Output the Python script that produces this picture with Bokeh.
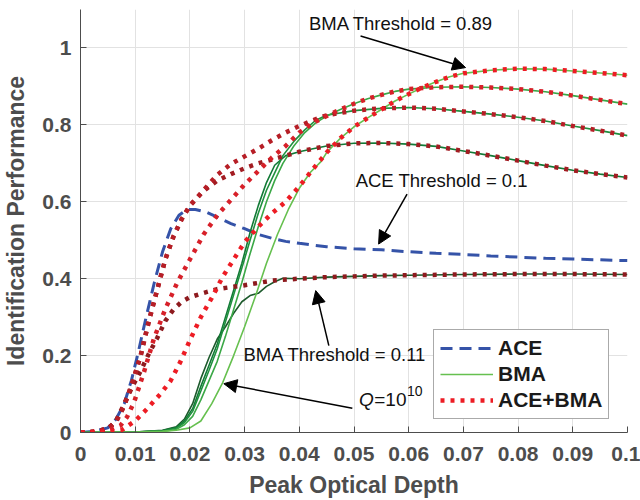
from bokeh.plotting import figure
from bokeh.models import (Range1d, FixedTicker, CustomJSTickFormatter, Legend, LegendItem,
                          Arrow, NormalHead)
from bokeh.core.properties import value
from bokeh.embed import file_html
from bokeh.resources import INLINE

# ---------------- data ----------------
x_ticks = [0, 0.01, 0.02, 0.03, 0.04, 0.05, 0.06, 0.07, 0.08, 0.09, 0.1]
y_ticks = [0, 0.2, 0.4, 0.6, 0.8, 1.0]

ace_x = [0, 0.0025, 0.005, 0.0065, 0.008, 0.0093, 0.0105, 0.012, 0.0135, 0.015, 0.0165, 0.018,
         0.0195, 0.021, 0.023, 0.025, 0.0275, 0.03, 0.0325, 0.035, 0.0375, 0.04, 0.045, 0.05,
         0.055, 0.06, 0.065, 0.07, 0.075, 0.08, 0.085, 0.09, 0.095, 0.1]
ace_y = [0, 0.003, 0.012, 0.035, 0.075, 0.135, 0.205, 0.3, 0.39, 0.47, 0.53, 0.565,
         0.58, 0.58, 0.573, 0.56, 0.543, 0.53, 0.515, 0.505, 0.497, 0.492, 0.483, 0.478,
         0.475, 0.47, 0.466, 0.463, 0.459, 0.456, 0.453, 0.451, 0.449, 0.447]

# ACE+BMA, BMA threshold 0.11
ab011_x = [0, 0.0025, 0.005, 0.0065, 0.008, 0.0095, 0.011, 0.0125, 0.014, 0.0155, 0.017, 0.0185,
           0.02, 0.0225, 0.025, 0.0275, 0.03, 0.035, 0.04, 0.045, 0.05, 0.055, 0.06, 0.07, 0.08,
           0.09, 0.1]
ab011_y = [0, 0.002, 0.01, 0.03, 0.075, 0.12, 0.16, 0.205, 0.245, 0.29, 0.32, 0.34,
           0.352, 0.363, 0.373, 0.378, 0.383, 0.395, 0.4, 0.404, 0.406, 0.408, 0.409, 0.411, 0.412,
           0.412, 0.411]

ab_mid_x = [0, 0.0025, 0.005, 0.0065, 0.008, 0.0095, 0.011, 0.0125, 0.014, 0.0155, 0.017, 0.0185,
            0.02, 0.0225, 0.025, 0.0275, 0.03, 0.0325, 0.035, 0.0375, 0.04, 0.0425, 0.045, 0.05,
            0.055, 0.06, 0.065, 0.07, 0.075, 0.08, 0.085, 0.09, 0.095, 0.1]
# ACE+BMA, threshold ~0.3
ab03_y = [0, 0.002, 0.01, 0.028, 0.07, 0.13, 0.2, 0.29, 0.37, 0.45, 0.51, 0.555,
          0.59, 0.628, 0.655, 0.672, 0.687, 0.7, 0.71, 0.72, 0.73, 0.738, 0.745, 0.752,
          0.753, 0.75, 0.744, 0.732, 0.72, 0.707, 0.694, 0.682, 0.672, 0.663]
# ACE+BMA, threshold ~0.5
ab05_y = [0, 0.002, 0.01, 0.028, 0.07, 0.13, 0.2, 0.29, 0.37, 0.45, 0.51, 0.555,
          0.59, 0.63, 0.67, 0.698, 0.718, 0.738, 0.76, 0.78, 0.797, 0.812, 0.825, 0.837,
          0.843, 0.845, 0.842, 0.835, 0.828, 0.82, 0.81, 0.797, 0.785, 0.772]

# ACE+BMA, threshold ~0.7
ab07_x = [0, 0.0025, 0.005, 0.0073, 0.0085, 0.0098, 0.0116, 0.0134, 0.0155, 0.0177, 0.02, 0.0225,
          0.025, 0.0275, 0.03, 0.0325, 0.035, 0.0375, 0.04, 0.0425, 0.045, 0.0475, 0.05, 0.0525,
          0.055, 0.0575, 0.06, 0.065, 0.07, 0.075, 0.08, 0.085, 0.09, 0.095, 0.1]
ab07_y = [0, 0.001, 0.005, 0.018, 0.04, 0.079, 0.157, 0.243, 0.321, 0.39, 0.45, 0.515,
          0.565, 0.605, 0.645, 0.68, 0.715, 0.745, 0.78, 0.805, 0.823, 0.84, 0.855, 0.868,
          0.878, 0.887, 0.893, 0.898, 0.899, 0.897, 0.893, 0.886, 0.876, 0.865, 0.854]

# ACE+BMA, threshold 0.89
ab089_x = [0, 0.0025, 0.005, 0.0075, 0.01, 0.0122, 0.0146, 0.0165, 0.0183, 0.02, 0.022, 0.024,
           0.026, 0.028, 0.03, 0.0325, 0.035, 0.0375, 0.04, 0.0425, 0.045, 0.0475, 0.05, 0.0525,
           0.055, 0.0575, 0.06, 0.0625, 0.065, 0.0675, 0.07, 0.075, 0.08, 0.085, 0.09, 0.095, 0.1]
ab089_y = [0, 0.001, 0.002, 0.006, 0.03, 0.062, 0.1, 0.135, 0.185, 0.24, 0.3, 0.35,
           0.405, 0.45, 0.495, 0.535, 0.57, 0.6, 0.64, 0.685, 0.728, 0.765, 0.795, 0.818,
           0.84, 0.862, 0.88, 0.897, 0.912, 0.925, 0.934, 0.942, 0.946, 0.945, 0.94, 0.935, 0.929]

# BMA alone: rising parts (they then join the matching ACE+BMA curve)
bma011_x = [0, 0.01, 0.015, 0.0175, 0.019, 0.0205, 0.022, 0.0235, 0.025, 0.0265, 0.028, 0.0295,
            0.031, 0.0325, 0.034, 0.0355, 0.037]
bma011_y = [0, 0.001, 0.006, 0.015, 0.035, 0.075, 0.14, 0.195, 0.243, 0.275, 0.31, 0.34,
            0.356, 0.362, 0.38, 0.392, 0.401]
bma03_x = [0, 0.01, 0.015, 0.0175, 0.019, 0.0205, 0.022, 0.0235, 0.025, 0.0265, 0.028, 0.0295,
           0.031, 0.0325, 0.034, 0.0355]
bma03_y = [0, 0.001, 0.005, 0.013, 0.03, 0.062, 0.12, 0.175, 0.23, 0.3, 0.37, 0.44,
           0.52, 0.59, 0.65, 0.695]
bma05_x = [0, 0.01, 0.015, 0.0175, 0.019, 0.0205, 0.022, 0.0235, 0.025, 0.0265, 0.028, 0.0295,
           0.031, 0.0325, 0.034, 0.0355, 0.037, 0.039, 0.041, 0.043]
bma05_y = [0, 0.001, 0.004, 0.011, 0.026, 0.055, 0.108, 0.162, 0.218, 0.288, 0.358, 0.428,
           0.5, 0.57, 0.63, 0.675, 0.72, 0.757, 0.787, 0.812]
bma07_x = [0, 0.01, 0.015, 0.0175, 0.019, 0.0205, 0.022, 0.0235, 0.025, 0.0265, 0.028, 0.0295,
           0.031, 0.0325, 0.034, 0.0355, 0.037, 0.039, 0.041, 0.043]
bma07_y = [0, 0.001, 0.003, 0.008, 0.02, 0.042, 0.085, 0.135, 0.185, 0.25, 0.32, 0.39,
           0.465, 0.535, 0.6, 0.655, 0.7, 0.745, 0.78, 0.805]
bma089_x = [0, 0.01, 0.015, 0.0175, 0.02, 0.022, 0.024, 0.026, 0.028, 0.03, 0.032, 0.034,
            0.036, 0.038, 0.04, 0.042, 0.044]
bma089_y = [0, 0.001, 0.003, 0.006, 0.012, 0.03, 0.075, 0.13, 0.2, 0.275, 0.355, 0.44,
            0.515, 0.58, 0.635, 0.676, 0.705]

# annotations
ann_texts = ["BMA Threshold = 0.89", "ACE Threshold = 0.1", "BMA Threshold = 0.11"]
ann_x = [0.0755, 0.0503, 0.0298]
ann_y = [1.064, 0.656, 0.202]
ann_align = ["right", "left", "left"]
arrow_start_x = [0.0512, 0.0597, 0.0454, 0.0497]
arrow_start_y = [1.031, 0.620, 0.226, 0.063]
arrow_end_x = [0.0704, 0.0545, 0.0430, 0.0262]
arrow_end_y = [0.949, 0.490, 0.369, 0.127]


def join(rx, ry, tx, ty):
    last = rx[-1]
    xs = list(rx) + [a for a in tx if a > last]
    ys = list(ry) + [b for a, b in zip(tx, ty) if a > last]
    return xs, ys


FONT = "Liberation Sans"
AX = "#4d4d4d"

p = figure(width=640, height=500, output_backend="svg", toolbar_location=None,
           x_range=Range1d(0, 0.1), y_range=Range1d(0, 1.1),
           min_border_left=80, min_border_right=13, min_border_top=9, min_border_bottom=66)
p.outline_line_color = None
p.background_fill_color = "white"

for ax in (p.xaxis[0], p.yaxis[0]):
    ax.axis_line_color = AX
    ax.axis_line_width = 1
    ax.major_tick_line_color = AX
    ax.major_tick_in = 6
    ax.major_tick_out = 0
    ax.minor_tick_line_color = None
    ax.major_label_text_font = FONT
    ax.major_label_text_font_style = "bold"
    ax.major_label_text_font_size = "21px"
    ax.major_label_text_color = AX
    ax.axis_label_text_font = FONT
    ax.axis_label_text_font_style = "bold"
    ax.axis_label_text_font_size = "23px"
    ax.axis_label_text_color = AX
    ax.formatter = CustomJSTickFormatter(code="return (+tick.toFixed(3)).toString();")

p.xaxis.ticker = FixedTicker(ticks=x_ticks)
p.yaxis.ticker = FixedTicker(ticks=y_ticks)
p.xaxis.axis_label = "Peak Optical Depth"
p.yaxis.axis_label = "Identification Performance"
p.xaxis.major_label_standoff = 14
p.xaxis.axis_label_standoff = 8
p.yaxis.major_label_standoff = 9
p.yaxis.axis_label_standoff = 10

p.xgrid.grid_line_color = "#e2e2e2"
p.ygrid.grid_line_color = "#e2e2e2"

# ACE
ace_r = p.line(ace_x, ace_y, line_color="#3553a8", line_width=3, line_dash="12 7")

# BMA
greens = ["#1d5a2c", "#127a36", "#1f8f3e", "#3ba847", "#66c04f"]
bma_sets = [
    join(bma011_x, bma011_y, ab011_x, ab011_y),
    join(bma03_x, bma03_y, ab_mid_x, ab03_y),
    join(bma05_x, bma05_y, ab_mid_x, ab05_y),
    join(bma07_x, bma07_y, ab07_x, ab07_y),
    join(bma089_x, bma089_y, ab089_x, ab089_y),
]
bma_r = None
for (xs, ys), c in zip(bma_sets, greens):
    bma_r = p.line(xs, ys, line_color=c, line_width=1.6)

# ACE+BMA
reds = ["#8e1a1e", "#a21c22", "#b61e26", "#d72029", "#ed1c24"]
ab_sets = [(ab011_x, ab011_y), (ab_mid_x, ab03_y), (ab_mid_x, ab05_y),
           (ab07_x, ab07_y), (ab089_x, ab089_y)]
ab_r = None
for (xs, ys), c in zip(ab_sets, reds):
    ab_r = p.line(xs, ys, line_color=c, line_width=4.5, line_dash="4 6", line_cap="butt")

# annotations
for t, x, y, al in zip(ann_texts, ann_x, ann_y, ann_align):
    p.text(x=[x], y=[y], text=[t], text_font=value(FONT), text_font_size="18.5px",
           text_align=al, text_baseline="middle", text_color="#111111")
p.text(x=[0.0509], y=[0.086], text=["Q"], text_font=value(FONT), text_font_size="19px",
       text_font_style="italic", text_baseline="middle", text_color="#111111")
p.text(x=[0.0537], y=[0.086], text=["=10"], text_font=value(FONT), text_font_size="19px",
       text_baseline="middle", text_color="#111111")
p.text(x=[0.0597], y=[0.108], text=["10"], text_font=value(FONT), text_font_size="14px",
       text_baseline="middle", text_color="#111111")

for xs, ys, xe, ye in zip(arrow_start_x, arrow_start_y, arrow_end_x, arrow_end_y):
    p.add_layout(Arrow(end=NormalHead(size=13, fill_color="black", line_color="black"),
                       x_start=xs, y_start=ys, x_end=xe, y_end=ye,
                       line_color="black", line_width=1.5))

legend = Legend(items=[LegendItem(label="ACE", renderers=[ace_r]),
                       LegendItem(label="BMA", renderers=[bma_r]),
                       LegendItem(label="ACE+BMA", renderers=[ab_r])],
                location=(353, 13))
legend.label_text_font = FONT
legend.label_text_font_style = "bold"
legend.label_text_font_size = "21px"
legend.label_text_color = "#1a1a1a"
legend.glyph_width = 53
legend.glyph_height = 20
legend.label_height = 20
legend.spacing = 2
legend.padding = 6
legend.margin = 0
legend.label_standoff = 5
legend.border_line_color = "#555555"
legend.border_line_width = 1
legend.background_fill_alpha = 1
p.add_layout(legend)

open("out.html", "w").write(file_html(p, INLINE))
